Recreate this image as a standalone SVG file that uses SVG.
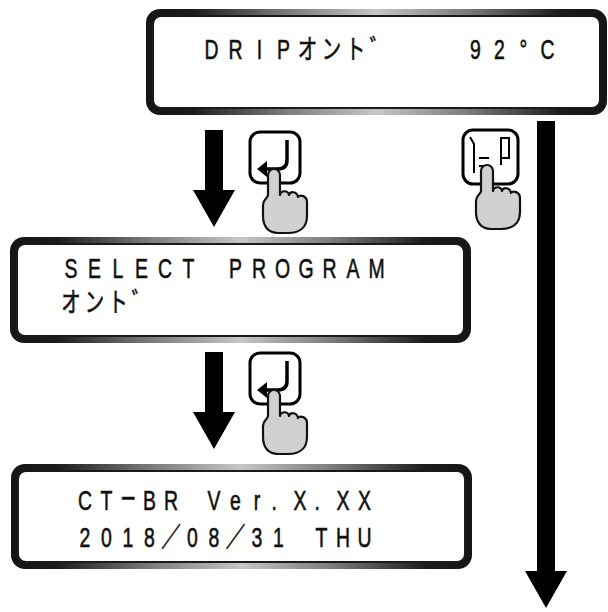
<svg xmlns="http://www.w3.org/2000/svg" xmlns:xlink="http://www.w3.org/1999/xlink" width="608" height="612" viewBox="0 0 608 612">
  <defs>
    <!-- metallic bezel: dark at both ends, light in the middle -->
    <linearGradient id="bezelGrad" x1="0" y1="0" x2="1" y2="0">
      <stop offset="0" stop-color="#151515"/>
      <stop offset="0.1" stop-color="#1c1c1c"/>
      <stop offset="0.3" stop-color="#7a7a7a"/>
      <stop offset="0.5" stop-color="#c6c6c6"/>
      <stop offset="0.7" stop-color="#7a7a7a"/>
      <stop offset="0.9" stop-color="#1c1c1c"/>
      <stop offset="1" stop-color="#151515"/>
    </linearGradient>
    <style>
      .bezel { fill: url(#bezelGrad); }
      .glass { fill: #ffffff; stroke: #1a1a1a; stroke-width: 2; }
      .lcd { font-family: "Liberation Sans", "Noto Sans CJK JP", sans-serif; font-size: 27px; fill: #111; stroke: #111; stroke-width: 0.6; text-anchor: middle; }
      .wide { font-size: 35px; }
      .arrow { fill: #000; }
      .key { fill: #fff; stroke: #000; stroke-width: 3; }
      .glyph { fill: none; stroke: #000; stroke-width: 3.5; stroke-linejoin: round; }
      .thin { fill: none; stroke: #000; stroke-width: 2; stroke-linejoin: miter; }
      .hand { fill: #d0d0d0; stroke: #111; stroke-width: 2.2; stroke-linejoin: round; }
    </style>
    <!-- pointing hand, origin at the fingertip -->
    <path id="hand" class="hand" d="M -6,7 A 6,6 0 0 1 6,7 L 6,27 C 7,22 14,22 15,27 C 16,23 23,23 24,29 C 26,26 33,28 33,34 L 33,48 C 33,60 25,65 14,65 L 4,65 C -6,65 -11,58 -11,48 L -11,37 C -11,31 -6,30 -6,27 Z"/>
    <!-- enter key, origin at top-left corner -->
    <g id="enterKey">
      <rect class="key" x="0" y="0" width="50" height="51" rx="10"/>
      <path class="glyph" d="M 37,8 L 37,28 Q 37,37 28,37 L 15,37"/>
      <polygon points="7,37 17,29 17,45" fill="#000"/>
    </g>
  </defs>

  <rect width="608" height="612" fill="#fff"/>

  <!-- top screen -->
  <g id="screen-drip">
    <rect class="bezel" x="146" y="9" width="461" height="106" rx="14"/>
    <rect class="glass" x="153" y="16" width="447" height="92" rx="8"/>
    <text class="lcd" transform="scale(0.72,1)" y="59" x="293.75 327.08 360.42 393.75 427.08 460.42 493.75 527.08">DRIPオント゛</text>
    <text class="lcd" transform="scale(0.72,1)" y="59" x="660.42 693.75 727.08 760.42">92°C</text>
  </g>

  <!-- middle screen -->
  <g id="screen-select">
    <rect class="bezel" x="10" y="237" width="461" height="106" rx="14"/>
    <rect class="glass" x="17" y="244" width="447" height="92" rx="8"/>
    <text class="lcd" transform="scale(0.72,1)" y="278" x="98.6 131.3 163.9 196.5 229.2 261.8 294.4 327.1 359.7 392.4 425 457.6 490.3 522.9">SELECT PROGRAM</text>
    <text class="lcd" transform="scale(0.72,1)" y="312" x="98.6 131.3 163.9 196.5">オント゛</text>
  </g>

  <!-- bottom screen -->
  <g id="screen-version">
    <rect class="bezel" x="11" y="464" width="461" height="105" rx="14"/>
    <rect class="glass" x="18" y="471" width="447" height="91" rx="8"/>
    <text class="lcd" transform="scale(0.72,1)" y="510" x="118.1 147.9 177.8 207.6 237.5 267.4 297.2 327.1 356.9 381 401.7 416.7 440.5 461.5 476.4 506.2">CT<tspan class="wide">−</tspan>BR Ver. X. XX</text>
    <text class="lcd" transform="scale(0.72,1)" y="547" x="118.1 147.9 177.8 207.6 237.5 267.4 297.2 327.1 356.9 386.8 416.7 446.5 476.4 506.2">2018／08／31 THU</text>
  </g>

  <!-- flow arrows -->
  <g id="connectors">
    <polygon class="arrow" points="205,130 223,130 223,190 235,190 214,227 193,190 205,190"/>
    <polygon class="arrow" points="205,352 223,352 223,412 235,412 214,449 193,412 205,412"/>
    <polygon class="arrow" points="537,121 555,121 555,571 567,571 546,608 525,571 537,571"/>
  </g>

  <!-- enter key pressed: top screen to program select -->
  <g id="key-enter-1">
    <use xlink:href="#enterKey" transform="translate(250,132)"/>
    <use xlink:href="#hand" transform="translate(274,168)"/>
  </g>

  <!-- menu key pressed -->
  <g id="key-menu">
    <rect class="key" x="463" y="130" width="55" height="54" rx="10"/>
    <path class="thin" d="M 470,137 L 474,144 L 474,173"/>
    <path class="thin" d="M 479,158 L 489,158 M 479,166 L 488,166"/>
    <path class="thin" d="M 501,165 L 501,138 L 509,138 L 509,158 L 502,158"/>
    <use xlink:href="#hand" transform="translate(487,164)"/>
  </g>

  <!-- enter key pressed: program select to version screen -->
  <g id="key-enter-2">
    <use xlink:href="#enterKey" transform="translate(250,353)"/>
    <use xlink:href="#hand" transform="translate(274,389)"/>
  </g>
</svg>
